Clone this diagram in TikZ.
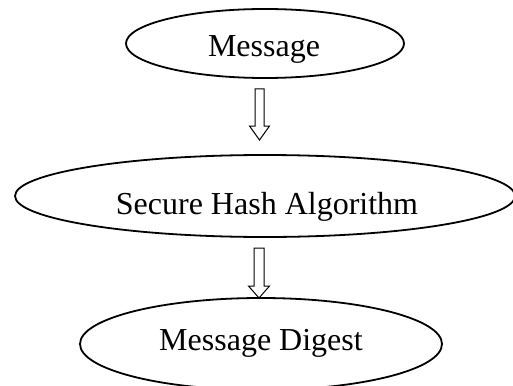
\documentclass[tikz,border=0pt]{standalone}
\usepackage{fontspec}
\setmainfont{Liberation Serif}
\usetikzlibrary{shapes.geometric,calc}
\tikzset{
  ell/.style={draw=black, line width=1.8pt, shape=ellipse, inner sep=0pt},
  txt/.style={font=\fontsize{32}{38}\selectfont, inner sep=0pt, anchor=base},
  blockarrow/.style={draw=black, line width=1pt, fill=white, line join=miter}
}
\begin{document}
\begin{tikzpicture}[x=1pt,y=1pt]
\useasboundingbox (0,0) rectangle (513,-385);
\clip (0,0) rectangle (513,-385);
% ellipses
\node[ell, minimum width=278pt, minimum height=69pt] (msg) at (265,-43.5) {};
\node[ell, minimum width=500pt, minimum height=82pt] (sha) at (265,-196) {};
\node[ell, minimum width=362pt, minimum height=92pt] (dig) at (261,-344) {};
% texts
\node[txt] (msgt) at (264,-57) {Message};
\node[txt] (shat) at (267,-214) {Secure Hash Algorithm};
\node[txt] (digt) at (261,-350) {Message Digest};
% hollow block arrows
\coordinate (a1) at (259.5,-89);
\coordinate (a2) at (259,-248);
\draw[blockarrow] ($(a1)+(-4.5,0)$) -- ++(0,-37) -- ++(-5.5,0) -- ($(a1)+(0,-51)$)
  -- ($(a1)+(10,-37)$) -- ($(a1)+(4.5,-37)$) -- ($(a1)+(4.5,0)$) -- cycle;
\draw[blockarrow] ($(a2)+(-5,0)$) -- ++(0,-38) -- ++(-5.5,0) -- ($(a2)+(0,-50)$)
  -- ($(a2)+(10.5,-38)$) -- ($(a2)+(5,-38)$) -- ($(a2)+(5,0)$) -- cycle;
\end{tikzpicture}
\end{document}
